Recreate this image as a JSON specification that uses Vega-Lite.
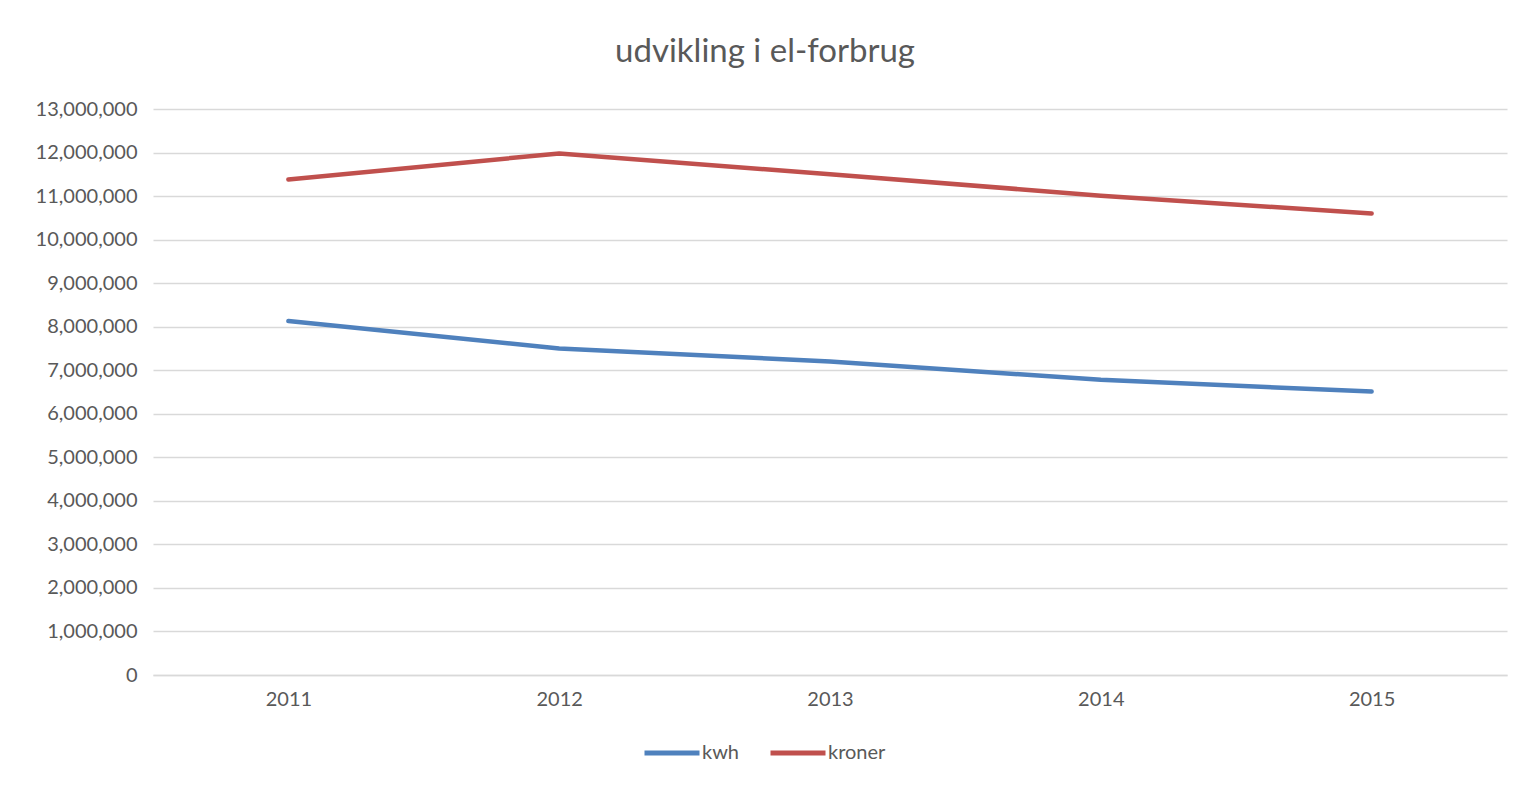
{
  "$schema": "https://vega.github.io/schema/vega-lite/v6.json",
  "width": 1354,
  "height": 566,
  "autosize": {"type": "none"},
  "padding": {"left": 153, "top": 109, "right": 18, "bottom": 115},
  "background": "white",
  "title": {
    "text": "udvikling i el-forbrug",
    "font": "Lato",
    "fontSize": 33,
    "fontWeight": "normal",
    "color": "#595959",
    "anchor": "middle",
    "dx": -65,
    "offset": 30
  },
  "data": {
    "values": [
      {"year": "2011", "series": "kwh", "value": 8130000},
      {"year": "2012", "series": "kwh", "value": 7500000},
      {"year": "2013", "series": "kwh", "value": 7200000},
      {"year": "2014", "series": "kwh", "value": 6780000},
      {"year": "2015", "series": "kwh", "value": 6510000},
      {"year": "2011", "series": "kroner", "value": 11380000},
      {"year": "2012", "series": "kroner", "value": 11980000},
      {"year": "2013", "series": "kroner", "value": 11500000},
      {"year": "2014", "series": "kroner", "value": 11010000},
      {"year": "2015", "series": "kroner", "value": 10600000}
    ]
  },
  "mark": {"type": "line", "strokeWidth": 4.5, "strokeCap": "round", "strokeJoin": "round"},
  "encoding": {
    "x": {
      "field": "year",
      "type": "ordinal",
      "scale": {"type": "point", "padding": 0.5},
      "axis": {
        "title": null,
        "labelAngle": 0,
        "labelFont": "Lato",
        "labelFontSize": 20,
        "labelColor": "#595959",
        "ticks": false,
        "labelPadding": 14,
        "domain": true,
        "domainColor": "#d9d9d9",
        "domainWidth": 1.5,
        "grid": false
      }
    },
    "y": {
      "field": "value",
      "type": "quantitative",
      "scale": {"domain": [0, 13000000], "nice": false},
      "axis": {
        "title": null,
        "values": [0, 1000000, 2000000, 3000000, 4000000, 5000000, 6000000, 7000000, 8000000, 9000000, 10000000, 11000000, 12000000, 13000000],
        "format": ",d",
        "labelFont": "Lato",
        "labelFontSize": 20,
        "labelColor": "#595959",
        "ticks": false,
        "labelPadding": 16,
        "domain": false,
        "grid": true,
        "gridColor": "#d9d9d9",
        "gridWidth": 1.5
      }
    },
    "color": {
      "field": "series",
      "type": "nominal",
      "sort": ["kwh", "kroner"],
      "scale": {"domain": ["kwh", "kroner"], "range": ["#4F81BD", "#C0504D"]},
      "legend": {
        "title": null,
        "orient": "none",
        "direction": "horizontal",
        "legendX": 489,
        "legendY": 614,
        "symbolType": "stroke",
        "symbolSize": 3025,
        "symbolStrokeWidth": 5,
        "labelFont": "Lato",
        "labelFontSize": 20,
        "labelColor": "#595959",
        "labelOffset": 0,
        "columnPadding": 20
      }
    }
  },
  "config": {"view": {"stroke": null}}
}
